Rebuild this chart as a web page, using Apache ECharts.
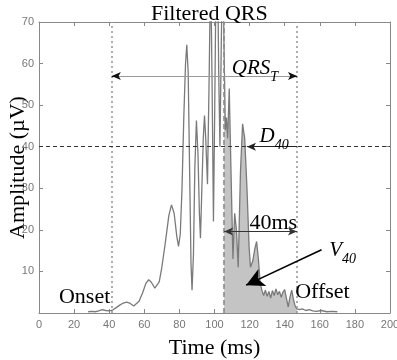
<!DOCTYPE html>
<html>
<head>
<meta charset="utf-8">
<script src="https://cdn.jsdelivr.net/npm/echarts@6.0.0/dist/echarts.min.js"></script>
<style>
  html, body { margin: 0; padding: 0; background: #fff; }
  #chart { width: 397px; height: 360px; }
</style>
</head>
<body>
<div id="chart"></div>
<script>
// filtered QRS: time in ms, amplitude in uV
const timeMs = [
  28, 30, 32, 34, 36, 38, 40, 42, 44, 46, 48, 50, 52, 54, 55, 57, 59, 61, 62.5, 64,
  66, 67, 68.5, 70, 72, 74, 75.5, 77, 78.5, 79.5, 80.5, 81.5, 82.5, 83.5, 84.2, 85,
  85.8, 86.6, 87.2, 88, 88.8, 89.7, 90.6, 91.4, 92, 92.8, 93.6, 94.3, 95, 96,
  97, 97.8, 98.6, 99.4, 100.1, 100.9, 101.7, 102.4, 103.1, 103.9, 104.7, 105.5,
  106.2, 106.8, 107.5, 108.4, 109.3, 110.5, 111.5, 112.5, 113.5, 114.8, 116, 117.2,
  118.5, 119.7, 120.5, 121.8, 123, 124, 125, 126, 127, 128, 129, 130, 131, 132, 133,
  134, 135, 136, 137, 138, 139, 140, 141, 142, 143, 144, 145, 146, 147, 148.5, 150,
  152, 154, 156, 158, 161, 164, 167, 170
];
const amplitude = [
  0.3, 0.4, 0.3, 0.5, 0.8, 0.6, 0.5, 0.7, 1.3, 1.9, 2.4, 2.6, 2.3, 1.7, 1.6, 2.8, 4.8, 7.2, 8.0, 7.4,
  6.0, 5.8, 7.5, 11, 17, 23.5, 26, 24, 18.5, 16, 19, 30, 47, 60, 64.5, 58,
  35, 12, 5.5, 14, 35, 46.3, 38, 24, 18, 30, 42, 47.5, 42, 31,
  58, 84, 56, 22, 48, 82, 86, 58, 40, 66, 88, 62,
  44, 47, 42, 54, 36, 13, 24, 20, 11, 34, 45.5, 42,
  30, 16, 11, 12.5, 15.5, 17.2, 13, 7.2, 5.5, 4.2, 5.5, 4.0, 5.2, 3.6, 5.4,
  4.2, 5.8, 4.4, 5.2, 3.8, 5.0, 5.6, 3.5, 1.5, 3.8, 5.5, 3.2, 1.6, 1.0, 0.8, 1.0,
  0.6, 0.8, 0.5, 0.4, 0.6, 0.3, 0.4, 0.3
];
const xTicks = [0, 20, 40, 60, 80, 100, 120, 140, 160, 180, 200];
const yTicks = [10, 20, 30, 40, 50, 60, 70];

// landmarks
const onsetMs = 41.5;
const offsetMs = 147;
const last40Ms = 105.5;   // offset - 40ms
const level40 = 40;       // uV
const qrsArrowY = 57;
const ms40ArrowY = 19.6;
const d40TipMs = 118.5;
const v40From = [161, 15.2];
const v40To = [118, 6.7];

const serif = 'Liberation Serif';
const curve = timeMs.map((t, i) => [t, amplitude[i]]);
const lastPart = curve.filter(p => p[0] >= last40Ms && p[0] <= offsetMs);

const chart = echarts.init(document.getElementById('chart'));

function textPoint(coord, text, rich) {
  return {
    coord: coord,
    label: {formatter: text, rich: rich || {}}
  };
}

const subRich = {
  b: {fontFamily: serif, fontSize: 21, fontStyle: 'italic', color: '#000', verticalAlign: 'bottom', padding: [0, 0, 5, 0]},
  s: {fontFamily: serif, fontSize: 14, fontStyle: 'italic', color: '#000', verticalAlign: 'bottom'}
};

const frameAxis = {
  type: 'value',
  axisLine: {onZero: false, lineStyle: {color: '#888', width: 1}},
  axisTick: {inside: true, length: 4, lineStyle: {color: '#888'}},
  splitLine: {show: false}
};

// arrow pieces drawn as two segments so the heads can be darker than the shaft
function arrow(from, to, startHead, endHead, shaft, head) {
  return [
    {coord: from, symbol: startHead ? 'arrow' : 'none', symbolSize: [6, 9],
     lineStyle: {type: 'solid', color: shaft, width: 1.2}},
    {coord: to, symbol: endHead ? 'arrow' : 'none', symbolSize: [6, 9]}
  ];
}

const option = {
  animation: false,
  backgroundColor: '#fff',
  title: {
    text: 'Filtered QRS',
    left: 146,
    top: -2,
    textStyle: {fontFamily: serif, fontSize: 22, fontWeight: 'normal', color: '#000'}
  },
  grid: {left: 39, right: 7, top: 22, bottom: 47, outerBoundsMode: 'none'},
  xAxis: [
    Object.assign({}, frameAxis, {
      min: 0, max: 200, interval: 20, position: 'bottom',
      name: 'Time (ms)', nameLocation: 'middle', nameGap: 24,
      nameTextStyle: {fontFamily: serif, fontSize: 22, color: '#000'},
      axisLabel: {
        color: '#777', fontSize: 11, fontFamily: 'Liberation Sans', margin: 6,
        formatter: v => xTicks.includes(v) ? String(v) : ''
      }
    }),
    Object.assign({}, frameAxis, {
      min: 0, max: 200, interval: 20, position: 'top', axisLabel: {show: false}
    })
  ],
  yAxis: [
    Object.assign({}, frameAxis, {
      min: 0, max: 70, interval: 10, position: 'left',
      name: 'Amplitude (\u00b5V)', nameLocation: 'middle', nameGap: 10, nameRotate: 90,
      nameMoveOverlap: false,
      nameTextStyle: {fontFamily: serif, fontSize: 22, color: '#000'},
      axisLabel: {
        color: '#777', fontSize: 11, fontFamily: 'Liberation Sans', margin: 5,
        formatter: v => yTicks.includes(v) ? String(v) : ''
      }
    }),
    Object.assign({}, frameAxis, {
      min: 0, max: 70, interval: 10, position: 'right', axisLabel: {show: false}
    })
  ],
  series: [
    {
      name: 'V40 area',
      type: 'line',
      data: lastPart,
      showSymbol: false,
      lineStyle: {width: 0},
      areaStyle: {color: '#c4c4c4', opacity: 1},
      z: 1,
      silent: true
    },
    {
      name: 'Filtered QRS',
      type: 'line',
      data: curve,
      showSymbol: false,
      lineStyle: {color: '#7a7a7a', width: 1.3},
      z: 2,
      markLine: {
        silent: true,
        symbol: 'none',
        label: {show: false},
        data: [
          {xAxis: onsetMs, lineStyle: {type: [2, 3], color: '#999', width: 1.6}},
          {xAxis: offsetMs, lineStyle: {type: [2, 3], color: '#999', width: 1.6}},
          {xAxis: last40Ms, lineStyle: {type: [5, 3], color: '#8a8a8a', width: 1.6}},
          {yAxis: level40, lineStyle: {type: [4, 3], color: '#333', width: 1}},
          arrow([onsetMs, qrsArrowY], [offsetMs, qrsArrowY], false, false, '#999'),
          arrow([onsetMs, qrsArrowY], [onsetMs + 3, qrsArrowY], true, false, '#111'),
          arrow([offsetMs - 3, qrsArrowY], [offsetMs, qrsArrowY], false, true, '#111'),
          arrow([offsetMs, level40], [d40TipMs, level40], false, true, '#222'),
          arrow([last40Ms, ms40ArrowY], [offsetMs, ms40ArrowY], true, true, '#333'),
          [
            {coord: v40From, symbol: 'none', lineStyle: {type: 'solid', color: '#000', width: 1.6}},
            {coord: v40To, symbol: 'arrow', symbolSize: [14, 18]}
          ]
        ]
      },
      markPoint: {
        silent: true,
        symbol: 'circle',
        symbolSize: 1,
        itemStyle: {color: 'rgba(0,0,0,0)'},
        label: {show: true, position: 'inside', color: '#000', fontFamily: serif, fontSize: 22},
        data: [
          textPoint([26, 3.9], 'Onset'),
          textPoint([161.5, 5], 'Offset'),
          textPoint([133.5, 21.6], '40ms'),
          textPoint([173, 14.4], '{b|V}{s|40}', subRich),
          textPoint([123, 58.2], '{b|QRS}{s|T}', subRich),
          textPoint([134, 41.8], '{b|D}{s|40}', subRich)
        ]
      }
    }
  ]
};

chart.setOption(option);
</script>
</body>
</html>
